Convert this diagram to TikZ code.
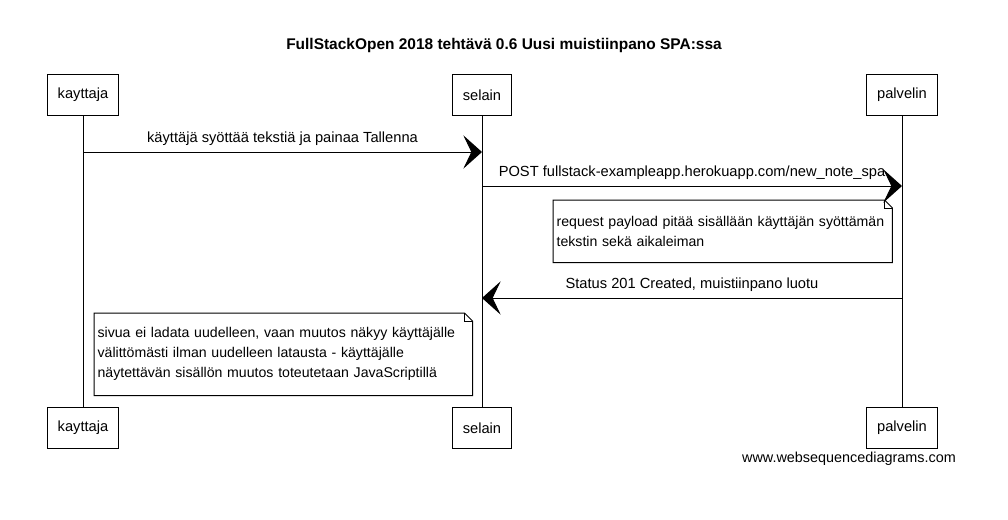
\documentclass[tikz,border=0pt]{standalone}
\usepackage{fontspec}
\setmainfont{Liberation Sans}
\usetikzlibrary{arrows.meta,positioning,calc}
\newcommand{\notefont}{\fontsize{10.6}{15}\selectfont\hyphenpenalty 10000\relax}
\tikzset{
    every picture/.style={font=\fontsize{11}{15}\selectfont},
    actor/.style={draw, line width=0.75pt, minimum height=31pt, inner xsep=8pt},
    msg/.style={line width=0.75pt, -{Stealth[length=14pt,width=25pt,inset=6pt]}},
    note/.style={anchor=north west, align=left, inner xsep=2.5pt, inner ysep=0pt, font=\notefont}
}

\begin{document}
\begin{tikzpicture}[x=0.75pt,y=-0.75pt]
    \useasboundingbox (0,0) rectangle (1008,519);
    \node[font=\fontsize{11.6}{13}\selectfont\bfseries] (title) at (504,45) {FullStackOpen 2018 tehtävä 0.6 Uusi muistiinpano SPA:ssa};

    % osallistujat
    \node[actor] (kayttaja) at (83,95) {kayttaja};
    \node[actor] (selain) at (482,95) {selain};
    \node[actor] (palvelin) at (902,95) {palvelin};
    \node[actor] (kayttaja2) at (83,428) {kayttaja};
    \node[actor] (selain2) at (482,428) {selain};
    \node[actor] (palvelin2) at (902,428) {palvelin};
    \draw[line width=0.75pt] (kayttaja) -- (kayttaja2);
    \draw[line width=0.75pt] (selain) -- (selain2);
    \draw[line width=0.75pt] (palvelin) -- (palvelin2);

    % viestit
    \coordinate (m1a) at (83,152);
    \coordinate (m1b) at (482,152);
    \coordinate (m2a) at (482,186);
    \coordinate (m2b) at (902,186);
    \coordinate (m3a) at (902,298);
    \coordinate (m3b) at (482,298);
    \draw[msg] (m1a) -- (m1b) node[midway, above=1pt] {käyttäjä syöttää tekstiä ja painaa Tallenna};
    \draw[msg] (m2a) -- (m2b) node[midway, above=1pt] {POST fullstack-exampleapp.herokuapp.com/new\_note\_spa};
    \draw[msg] (m3a) -- (m3b) node[midway, above=1pt] {Status 201 Created, muistiinpano luotu};

    % muistiinpanot
    \node[note, text width=249.2pt, minimum height=46.5pt] (note1) at (553,200)
        {request payload pitää sisällään käyttäjän syöttämän\\tekstin sekä aikaleiman};
    \draw[line width=0.75pt] (note1.north west) -- ($(note1.north east)-(6pt,0)$) -- ($(note1.north east)-(0,6pt)$)
        -- (note1.south east) -- (note1.south west) -- cycle;
    \draw[line width=0.5pt] ($(note1.north east)-(6pt,0)$) |- ($(note1.north east)-(0,6pt)$);
    \node[note, text width=278.5pt, minimum height=61.5pt] (note2) at (94,313)
        {sivua ei ladata uudelleen, vaan muutos näkyy käyttäjälle\\välittömästi ilman uudelleen latausta - käyttäjälle\\näytettävän sisällön muutos toteutetaan JavaScriptillä};
    \draw[line width=0.75pt] (note2.north west) -- ($(note2.north east)-(6pt,0)$) -- ($(note2.north east)-(0,6pt)$)
        -- (note2.south east) -- (note2.south west) -- cycle;
    \draw[line width=0.5pt] ($(note2.north east)-(6pt,0)$) |- ($(note2.north east)-(0,6pt)$);

    \node[font=\fontsize{10.8}{13}\selectfont] (wsd) at (849,459) {www.websequencediagrams.com};
\end{tikzpicture}
\end{document}
